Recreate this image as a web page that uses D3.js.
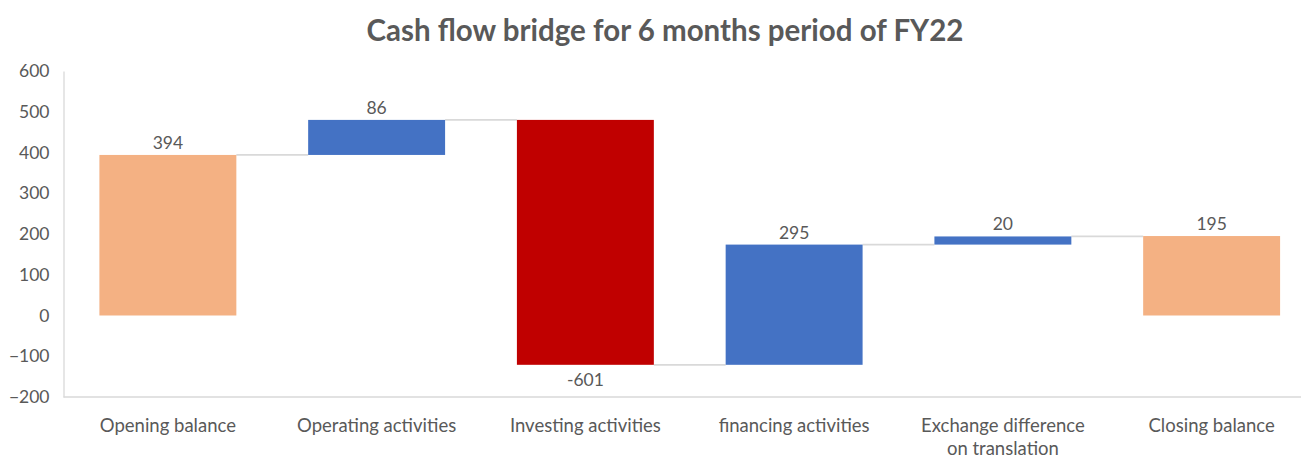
<!DOCTYPE html>
<html><head><meta charset="utf-8">
<script src="https://cdn.jsdelivr.net/npm/d3@7"></script>
<style>
html,body{margin:0;padding:0;background:#fff;}
svg{display:block;font-family:Lato, "Open Sans", sans-serif;}
</style></head>
<body>
<svg id="chart" width="1301" height="459"></svg>
<script>
const title = "Cash flow bridge for 6 months period of FY22";
const categories = ["Opening balance","Operating activities","Investing activities","financing activities","Exchange difference\non translation","Closing balance"];
const values = [394, 86, -601, 295, 20, 195];
const kinds = ["total","delta","delta","delta","delta","total"];
const yTicks = [-200,-100,0,100,200,300,400,500,600];

const colors = {total:"#F4B183", up:"#4472C4", down:"#C00000"};
const textColor = "#595959";
const axisColor = "#D9D9D9";

// compute waterfall
let run = 0;
const bars = categories.map((c,i)=>{
  let y0,y1;
  if(kinds[i]==="total"){ y0=0; y1=values[i]; run=values[i]; }
  else { y0=run; y1=run+values[i]; run=y1; }
  return {cat:c, v:values[i], y0, y1, kind:kinds[i], end:y1};
});

const svg = d3.select("#chart");
const x = d3.scaleBand().domain(categories).range([63.5,1316]).paddingInner(0.344).paddingOuter(0.172);
const y = d3.scaleLinear().domain([-200,600]).range([397,71]);

// title
svg.append("text").attr("x",665).attr("y",41).attr("text-anchor","middle")
  .attr("font-size",29.5).attr("font-weight","bold").attr("fill",textColor).text(title);

// axes
const yAxis = d3.axisLeft(y).tickValues(yTicks).tickSize(0).tickPadding(14);
const gy = svg.append("g").attr("transform","translate(63.5,0)").call(yAxis);
gy.select(".domain").attr("stroke",axisColor).attr("stroke-width",1.3);
gy.selectAll("text").attr("font-size",17.5).attr("fill",textColor).attr("font-family","Lato, sans-serif");

svg.append("line").attr("x1",63.5).attr("x2",1301).attr("y1",y(-200)).attr("y2",y(-200))
  .attr("stroke",axisColor).attr("stroke-width",1.3);

// connectors
for(let i=0;i<bars.length-1;i++){
  const lvl = bars[i].end;
  svg.append("line")
    .attr("x1",x(categories[i])+x.bandwidth()).attr("x2",x(categories[i+1]))
    .attr("y1",y(lvl)).attr("y2",y(lvl))
    .attr("stroke",axisColor).attr("stroke-width",1.8);
}

// bars
svg.append("g").selectAll("rect").data(bars).join("rect")
  .attr("x",d=>x(d.cat)).attr("width",x.bandwidth())
  .attr("y",d=>y(Math.max(d.y0,d.y1)))
  .attr("height",d=>Math.abs(y(d.y0)-y(d.y1)))
  .attr("fill",d=>d.kind==="total"?colors.total:(d.v>=0?colors.up:colors.down));

// labels
svg.append("g").selectAll("text").data(bars).join("text")
  .attr("x",d=>x(d.cat)+x.bandwidth()/2)
  .attr("y",d=>d.v>=0? y(Math.max(d.y0,d.y1))-6 : y(Math.min(d.y0,d.y1))+21)
  .attr("text-anchor","middle").attr("font-size",17.5).attr("fill",textColor)
  .text(d=>d.v);

// category labels
const cl = svg.append("g").selectAll("text").data(categories).join("text")
  .attr("x",d=>x(d)+x.bandwidth()/2).attr("y",432)
  .attr("text-anchor","middle").attr("font-size",18.5).attr("fill",textColor);
cl.each(function(d){
  const lines=d.split("\n");
  d3.select(this).selectAll("tspan").data(lines).join("tspan")
    .attr("x",x(d)+x.bandwidth()/2).attr("dy",(l,i)=>i===0?0:23).text(l=>l);
});
</script>
</body></html>
